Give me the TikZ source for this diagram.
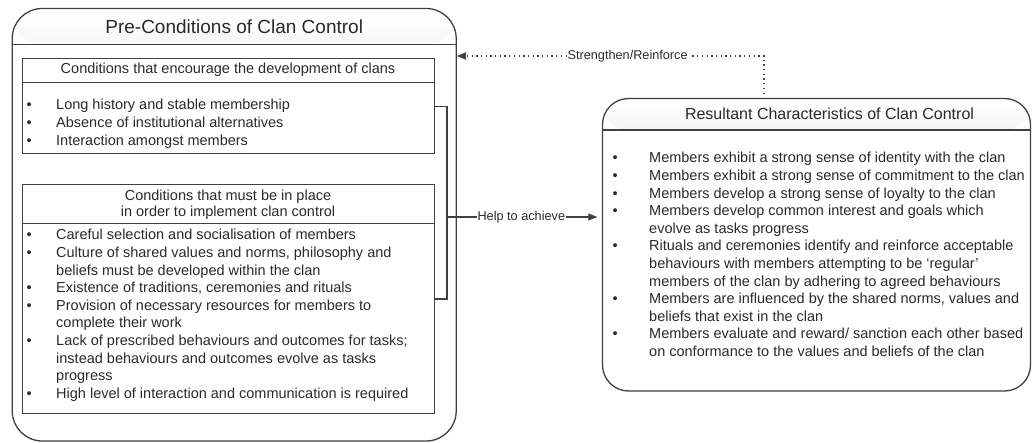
\documentclass[tikz,border=0pt]{standalone}
\usepackage{fontspec}
\setmainfont{Liberation Sans}
\usetikzlibrary{arrows.meta}
\definecolor{linegray}{HTML}{404040}
\definecolor{textgray}{HTML}{2A2A2A}
\newcommand{\clanbul}[1][29.5pt]{\makebox[#1][l]{•}}

\begin{document}
\begin{tikzpicture}[x=1pt,y=-1pt]
\tikzstyle{clanbox}=[draw=linegray,line width=1.3pt,fill=white,inner sep=0pt]
\tikzstyle{clan head}=[path picture={\shade[top color=white,bottom color=black!38] (path picture bounding box.north west) rectangle ([yshift=-#1]path picture bounding box.north east);
  \draw[linegray,line width=1.3pt] ([yshift=-#1]path picture bounding box.north west) -- ([yshift=-#1]path picture bounding box.north east);}]
\tikzstyle{condbox}=[draw=linegray,line width=1pt,fill=white,inner sep=0pt]
\tikzstyle{headline}=[draw=linegray,line width=1pt]
\tikzstyle{titletext}=[font=\fontsize{19}{22}\selectfont,text=textgray,anchor=base,inner sep=0pt]
\tikzstyle{headtext}=[font=\fontsize{14.5}{16}\selectfont,text=textgray,inner sep=0pt]
\tikzstyle{listtext}=[font=\fontsize{14.5}{17.6}\selectfont,text=textgray,anchor=base west,inner sep=0pt]
\tikzstyle{linkline}=[draw=linegray,line width=1.1pt]
\tikzstyle{dotline}=[draw=linegray,line width=1.4pt,dash pattern=on 1.3pt off 3.4pt]
\tikzstyle{linklabel}=[font=\fontsize{12.7}{15}\selectfont,text=textgray,fill=white,inner sep=1pt]
\useasboundingbox (0,0) rectangle (1032,443);

% outer boxes
\node[clanbox,rounded corners=30pt,clan head=36pt,minimum width=444pt,minimum height=432.5pt] (pre) at (234.2,224.75) {};
\node[clanbox,rounded corners=26pt,clan head=31.5pt,minimum width=428pt,minimum height=292.5pt] (result) at (816.5,244.75) {};
\node[titletext] (pretitle) at (234.2,33.3) {Pre-Conditions of Clan Control};
\node[titletext,font=\fontsize{16}{19}\selectfont] (restitle) at (829.5,120) {Resultant Characteristics of Clan Control};

% condition boxes
\node[condbox,minimum width=412pt,minimum height=95pt] (encourage) at (228,106.5) {};
\node[condbox,minimum width=412pt,minimum height=228pt] (implement) at (228,299) {};
\draw[headline] ([yshift=-24pt]encourage.north west) -- ([yshift=-24pt]encourage.north east);
\draw[headline] ([yshift=-39.5pt]implement.north west) -- ([yshift=-39.5pt]implement.north east);
\node[headtext,anchor=base] (enchead) at (228,73.5) {Conditions that encourage the development of clans};
\node[headtext,align=center] (imphead) at (228,204.5) {Conditions that must be in place\\in order to implement clan control};

\node[listtext] (enclist) at (26.5,110) {\begin{tabular}[t]{@{}l@{}l@{}}
\clanbul & Long history and stable membership\\
\clanbul & Absence of institutional alternatives\\
\clanbul & Interaction amongst members
\end{tabular}};
\node[listtext] (implist) at (26.5,240) {\begin{tabular}[t]{@{}l@{}l@{}}
\clanbul & Careful selection and socialisation of members\\
\clanbul & Culture of shared values and norms, philosophy and\\
 & beliefs must be developed within the clan\\
\clanbul & Existence of traditions, ceremonies and rituals\\
\clanbul & Provision of necessary resources for members to\\
 & complete their work\\
\clanbul & Lack of prescribed behaviours and outcomes for tasks;\\
 & instead behaviours and outcomes evolve as tasks\\
 & progress\\
\clanbul & High level of interaction and communication is required
\end{tabular}};
\node[listtext] (reslist) at (612.5,163) {\begin{tabular}[t]{@{}l@{}l@{}}
\clanbul[36.5pt] & Members exhibit a strong sense of identity with the clan\\
\clanbul[36.5pt] & Members exhibit a strong sense of commitment to the clan\\
\clanbul[36.5pt] & Members develop a strong sense of loyalty to the clan\\
\clanbul[36.5pt] & Members develop common interest and goals which\\
 & evolve as tasks progress\\
\clanbul[36.5pt] & Rituals and ceremonies identify and reinforce acceptable\\
 & behaviours with members attempting to be ‘regular’\\
 & members of the clan by adhering to agreed behaviours\\
\clanbul[36.5pt] & Members are influenced by the shared norms, values and\\
 & beliefs that exist in the clan\\
\clanbul[36.5pt] & Members evaluate and reward/ sanction each other based\\
 & on conformance to the values and beliefs of the clan
\end{tabular}};

% connectors
\coordinate (help) at (447,217);
\coordinate (turn) at (764,56);
\draw[linkline] (encourage.east) -| (help) |- (implement.east);
\draw[linkline,-{Triangle[length=9pt,width=7pt]},shorten >=4.5pt] (help) -- node[linklabel,pos=0.48] {Help to achieve} (result.west |- help);
\draw[dotline,-{Triangle[length=9pt,width=7pt]},shorten <=4pt] (turn |- result.north) -- (turn) -- node[linklabel,pos=0.444] {Strengthen/Reinforce} (turn -| pre.east);
\end{tikzpicture}
\end{document}
